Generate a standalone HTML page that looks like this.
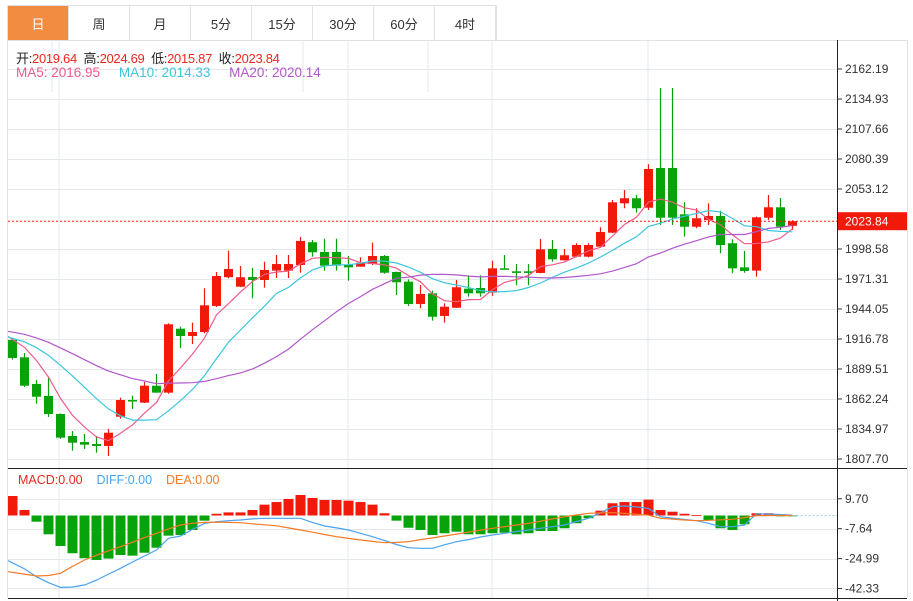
<!DOCTYPE html>
<html><head><meta charset="utf-8">
<style>
html,body{margin:0;padding:0;background:#fff;width:913px;height:601px;overflow:hidden;font-family:"Liberation Sans","Noto Sans CJK SC",sans-serif;}
.tabs{position:absolute;left:7px;top:5px;height:35px;display:flex;border:1px solid #dfe3e8;border-bottom:none;}
.tab{width:60px;height:35px;border-right:1px solid #dfe3e8;display:flex;align-items:center;justify-content:center;font-size:13px;color:#333;cursor:pointer;}
.tab.on{background:#f28c40;color:#fff;}
svg{position:absolute;left:0;top:0;}
</style></head><body>
<div class="tabs">
<div class="tab on">日</div>
<div class="tab">周</div>
<div class="tab">月</div>
<div class="tab">5分</div>
<div class="tab">15分</div>
<div class="tab">30分</div>
<div class="tab">60分</div>
<div class="tab">4时</div>
</div>
<svg id="chart" width="913" height="601"></svg>
<script>
const opens=[1915.9,1900.1,1875.9,1865.0,1848.6,1828.6,1823.1,1821.3,1819.5,1846.1,1861.3,1858.9,1874.3,1868.0,1926.1,1919.5,1923.1,1946.8,1972.9,1964.3,1973.1,1970.4,1978.9,1978.9,1984.0,2004.7,1995.9,1995.9,1984.3,1982.5,1984.9,1992.2,1977.7,1968.9,1948.6,1958.3,1937.7,1945.2,1962.5,1963.1,1958.9,1981.0,1978.3,1978.3,1976.8,1998.6,1988.3,1991.6,1991.6,2000.7,2013.4,2040.1,2044.7,2036.1,2072.2,2072.2,2030.1,2018.8,2024.9,2028.6,2003.8,1981.9,1978.9,2027.0,2036.5,2019.64];
const highs=[1917,1904.0,1879.5,1881.3,1849,1833.1,1830.4,1828.6,1835.0,1863.4,1865.2,1877.7,1885.0,1931,1928.0,1931.6,1962.9,1977.7,1997.0,1983.1,1981.3,1987.0,1993.1,1993.1,2009.5,2006.8,2007.9,2007.9,1992.2,1991.0,2004.3,1993.1,1978,1971.0,1965.9,1960.7,1949.2,1970.4,1974.7,1974.7,1987.9,1993.1,1984.9,1984.9,2007.7,2006.8,1998.6,2003.8,2003.8,2018.3,2043.1,2052.2,2047.7,2075.6,2144.9,2144.9,2041.0,2035.6,2040.1,2033.4,2007.4,1996.8,2028,2047.7,2044.9,2024.69];
const lows=[1898,1873.1,1858.0,1845.9,1826,1815.2,1816.8,1813.4,1810.4,1844.3,1853.1,1858.6,1868.0,1867,1908.6,1912.2,1922,1945.9,1972,1964,1953.8,1963.4,1972.2,1972.2,1977.0,1991.6,1978.9,1978.9,1969.8,1982.5,1984.0,1976,1956.8,1946.8,1944.7,1933.4,1931.6,1945,1955.2,1955.2,1956.1,1979.8,1965.6,1965.6,1976.5,1987.0,1988,1991,1991,2000,2013,2035.6,2031.6,2034.0,2020.4,2020.4,2009.8,2017.4,2020.4,1994.7,1976.5,1977.0,1973.4,2024.9,2015.9,2015.87];
const closes=[1899.5,1874.3,1864.3,1848.6,1827.1,1822.5,1820.7,1819.5,1831.6,1861.3,1860.1,1874.3,1868.0,1930.1,1919.5,1923.1,1947.4,1974.0,1980.4,1972.9,1970.4,1979.5,1984.9,1984.9,2005.9,1995.6,1983.4,1983.4,1981.9,1986.1,1992.2,1977.0,1968.3,1948.6,1957.7,1937.0,1946.1,1963.8,1958.3,1958.3,1981.0,1979.8,1976.8,1976.8,1998.3,1989.2,1992.9,2002.2,2002.2,2014.0,2041.0,2044.7,2035.6,2071.3,2027.0,2027.0,2018.8,2026.5,2028.6,2002.2,1981.0,1978.6,2027.4,2036.5,2018.8,2023.84];
const priorCloses=[1929,1929,1929,1929,1929,1929,1929,1929,1929,1929,1918,1918,1918,1918,1918,1924,1924,1924,1924];
const priceTicks=[2162.19,2134.93,2107.66,2080.39,2053.12,1998.58,1971.31,1944.05,1916.78,1889.51,1862.24,1834.97,1807.70];
const macdHist=[11.3,3.2,-3.6,-10.9,-17.7,-21.9,-24.8,-25.8,-25,-22.9,-23.3,-21.6,-18.7,-11.7,-11.3,-8.4,-3.0,1.0,1.8,1.8,3.2,6.3,7.8,9.6,11.9,10.2,9.0,9.0,8.6,7.8,6.3,1.3,-3.0,-7.1,-8.4,-11.3,-10.3,-9.4,-10.9,-10.9,-10.3,-10.0,-10.9,-10.3,-9.0,-9.0,-7.4,-4.5,-1.6,2.8,7.1,7.8,7.8,9.2,3.2,2.2,1.0,0.2,-2.6,-7.4,-8.4,-5.1,1.3,1.3,-0.5,-0.3];
const diffVals=[-26.2,-31,-35.5,-39,-41.7,-41.5,-40.3,-37.5,-34,-30.6,-27,-23.5,-20,-13.2,-11.9,-8,-4.6,-3.6,-3,-2.6,-2,-1.6,-1.6,-1.6,-1.6,-4,-6.1,-7.2,-8.4,-10.3,-12.3,-14.5,-16.8,-18.7,-19,-19,-17,-15.2,-14,-12.5,-11.3,-10.3,-9.3,-8.4,-7.4,-6.5,-5.5,-3.5,-1.6,1.5,5.1,5.5,5,4.1,-0.7,-1.5,-2.3,-3.0,-4.5,-6.5,-6.5,-5.5,1.0,0.8,0.6,0.2];
const deaVals=[-32.6,-34,-35.1,-34.8,-33.5,-29.5,-25.8,-23,-20.5,-18.1,-15.5,-12.8,-10.3,-7.8,-5.5,-4.5,-4,-3.9,-4,-4.2,-4.8,-5.4,-6,-7.2,-8.4,-9.7,-11,-12.3,-13.3,-14.2,-15,-15.8,-15.6,-15.2,-14,-13,-11.9,-10.8,-9.6,-8.5,-7.4,-6.5,-5.5,-4.6,-3.3,-2,-0.7,0.3,1.3,1.5,1.6,1.2,0.7,0.2,-1.6,-2.1,-2.6,-3,-2.8,-2.5,-2.2,-1.2,-0.1,0,0,0];
const macdTicks=[9.70,-7.64,-24.99,-42.33];

const NS='http://www.w3.org/2000/svg';
const svg=document.getElementById('chart');
function mk(tag,attrs,parent){const e=document.createElementNS(NS,tag);for(const k in attrs)e.setAttribute(k,attrs[k]);(parent||svg).appendChild(e);return e;}
const L=8,R=837,RB=907;
const xAt=i=>12.5+12*i;
const yP=v=>69+(2162.19-v)*(30/27.27);
const yM=v=>515.5-v*1.724;
const RED='#f0190a',GREEN='#08a30a';

const defs=mk('defs',{});const cp=mk('clipPath',{id:'pc'},defs);mk('rect',{x:L,y:40,width:R-L,height:428},cp);
const cm=mk('clipPath',{id:'mc'},defs);mk('rect',{x:L,y:470,width:R-L,height:128},cm);

const grid=mk('g',{});


[52,303,428].forEach(x=>mk('line',{x1:x,y1:40,x2:x,y2:92,stroke:'#e3e8ee','stroke-width':1},grid));
[59,348,492,648].forEach(x=>{mk('line',{x1:x,y1:40,x2:x,y2:598,stroke:'#e3e8ee','stroke-width':1},grid);});
priceTicks.forEach(v=>{const y=Math.round(yP(v))+0.5;mk('line',{x1:L,y1:y,x2:R,y2:y,stroke:'#e3e8ee'},grid);});
macdTicks.forEach(v=>{const y=Math.round(yM(v))+0.5;mk('line',{x1:L,y1:y,x2:R,y2:y,stroke:'#e3e8ee'},grid);});
mk('line',{x1:L-0.5,y1:40,x2:L-0.5,y2:598,stroke:'#dfe3e8'});
mk('line',{x1:RB+0.5,y1:40,x2:RB+0.5,y2:598,stroke:'#dfe3e8'});
mk('line',{x1:L,y1:40.5,x2:RB,y2:40.5,stroke:'#dfe3e8'});
mk('line',{x1:R+0.5,y1:40,x2:R+0.5,y2:601,stroke:'#222'});
mk('line',{x1:L,y1:468.5,x2:RB,y2:468.5,stroke:'#222'});
mk('line',{x1:L,y1:598.5,x2:RB,y2:598.5,stroke:'#222'});

const ax=mk('g',{'font-size':12,fill:'#333'});


priceTicks.forEach(v=>{const y=yP(v);mk('line',{x1:R,y1:y,x2:R+5,y2:y,stroke:'#333'},ax);const t=mk('text',{x:845,y:y+4},ax);t.textContent=v.toFixed(2);});
const mx=mk('g',{'font-size':12,fill:'#333'});


macdTicks.forEach(v=>{const y=yM(v);mk('line',{x1:R,y1:y,x2:R+5,y2:y,stroke:'#333'},mx);const t=mk('text',{x:845,y:y+4},mx);t.textContent=v.toFixed(2);});

const cg=mk('g',{'clip-path':'url(#pc)'});


for(let i=0;i<opens.length;i++){
  const up=closes[i]>=opens[i];const col=up?RED:GREEN;const x=xAt(i);
  const w=mk('line',{x1:x,y1:yP(highs[i]),x2:x,y2:yP(lows[i]),stroke:col,'stroke-width':1.2},cg);
  
  
  const t=yP(Math.max(opens[i],closes[i])),b=yP(Math.min(opens[i],closes[i]));
  const r=mk('rect',{x:x-4.5,y:t,width:9,height:Math.max(1.5,b-t),fill:col},cg);
  
  
}
const all=priorCloses.concat(closes);
function ma(n){return closes.map((_,i)=>{const j=i+priorCloses.length;let s=0;for(let k=j-n+1;k<=j;k++)s+=all[k];return s/n;});}
[[5,'#ee5b8b','ma5-line'],[10,'#3cc6dd','ma10-line'],[20,'#b257cc','ma20-line']].forEach(([n,c,name])=>{
  const v=ma(n);const pts=v.map((m,i)=>(i===0?L:xAt(i))+','+yP(m).toFixed(1)).join(' ');
  const p=mk('polyline',{points:pts,fill:'none',stroke:c,'stroke-width':1.2,'clip-path':'url(#pc)'});
  
  
});
const lp=yP(closes[closes.length-1]);
const pl=mk('line',{x1:L,y1:lp,x2:R,y2:lp,stroke:'#f0190a','stroke-width':1,'stroke-dasharray':'2,2'});


const pb=mk('rect',{x:R+1,y:lp-9,width:RB-R-1,height:18,fill:'#f0190a'});


const pt=mk('text',{x:845,y:lp+4.5,'font-size':12,fill:'#fff'});pt.textContent=closes[closes.length-1].toFixed(2);

const mg=mk('g',{'clip-path':'url(#mc)'});


macdHist.forEach((v,i)=>{const y0=yM(0),y1=yM(v);const r=mk('rect',{x:xAt(i)-5,y:Math.min(y0,y1),width:10,height:Math.max(0.8,Math.abs(y1-y0)),fill:v>=0?RED:GREEN},mg);
  
  });
const zl=mk('line',{x1:xAt(macdHist.length-1),y1:yM(0),x2:R,y2:yM(0),stroke:'#9cc9ec','stroke-dasharray':'2,2'});


const dl=mk('polyline',{points:diffVals.map((v,i)=>(i===0?L:xAt(i))+','+yM(v).toFixed(1)).join(' '),fill:'none',stroke:'#4aa3f0','stroke-width':1.2,'clip-path':'url(#mc)'});


const el=mk('polyline',{points:deaVals.map((v,i)=>(i===0?L:xAt(i))+','+yM(v).toFixed(1)).join(' '),fill:'none',stroke:'#f57a22','stroke-width':1.2,'clip-path':'url(#mc)'});


</script>
<div style="position:absolute;left:16px;top:48px;font-size:13px;color:#222;white-space:nowrap;letter-spacing:-0.3px;">开:<span style="color:#e8281e">2019.64</span>&nbsp; 高:<span style="color:#e8281e">2024.69</span>&nbsp; 低:<span style="color:#e8281e">2015.87</span>&nbsp; 收:<span style="color:#e8281e">2023.84</span></div>
<div style="position:absolute;left:16px;top:65px;font-size:13.5px;white-space:nowrap;"><span style="color:#ee5b8b">MA5:&nbsp;2016.95</span>&nbsp;&nbsp;&nbsp;&nbsp; <span style="color:#3cc6dd">MA10:&nbsp;2014.33</span>&nbsp;&nbsp;&nbsp;&nbsp; <span style="color:#b257cc">MA20:&nbsp;2020.14</span></div>
<div style="position:absolute;left:18px;top:473px;font-size:12.5px;white-space:nowrap;"><span style="color:#e8281e">MACD:0.00</span>&nbsp;&nbsp;&nbsp; <span style="color:#4aa3f0">DIFF:0.00</span>&nbsp;&nbsp;&nbsp; <span style="color:#f57a22">DEA:0.00</span></div>
</body></html>
